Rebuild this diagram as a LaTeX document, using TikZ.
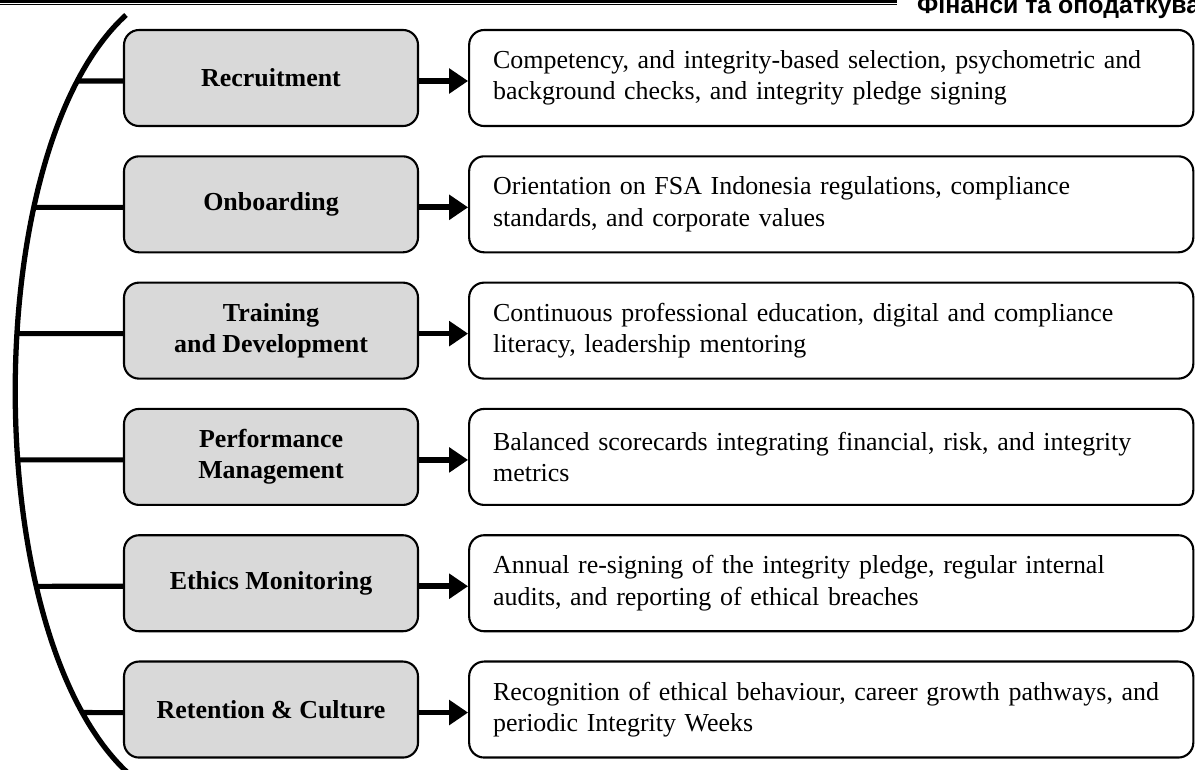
\documentclass[tikz,border=0pt]{standalone}
\usepackage{fontspec}
\setmainfont{Liberation Serif}
\newfontfamily\headfont{Liberation Sans}
\usepackage{tikz}
\usetikzlibrary{arrows.meta,positioning,intersections}

\definecolor{stagegrey}{RGB}{217,217,217}

\begin{document}
\begin{tikzpicture}[
  node distance=0.47cm and 0.817cm,
  stage/.style={rectangle, rounded corners=0.25cm, draw, line width=1pt, fill=stagegrey, minimum width=4.9cm, minimum height=1.6cm, align=center, font=\fontsize{12.3pt}{14.8pt}\selectfont\bfseries},
  desc/.style={rectangle, rounded corners=0.25cm, draw, line width=1pt, text width=11.27cm, inner xsep=0.4cm, minimum height=1.6cm, align=left, font=\fontsize{12.3pt}{14.8pt}\selectfont},
  arrow/.style={-{Triangle[length=9pt, width=11.5pt]}, line width=2.7pt},
  spoke/.style={line width=2.4pt},
  rim/.style={line width=2.5pt}
]
  \useasboundingbox (0,0) rectangle (19.917,-12.817);
  \clip (0,0) rectangle (19.917,-12.817);

  % Running head
  \draw[line width=1.1pt] (0,-0.025) -- (14.95,-0.025);
  \draw[line width=0.5pt] (0,-0.078) -- (14.95,-0.078);
  \node[anchor=base west, inner sep=0pt, font=\headfont\fontsize{11.8pt}{14pt}\selectfont\bfseries] (journal) at (15.28,-0.233) {Фінанси та оподаткування};

  % Stages
  \node[stage] (recruit) at (4.517,-1.3) {Recruitment};
  \node[stage, below=of recruit] (onboard) {Onboarding};
  \node[stage, below=of onboard] (train) {Training\\and Development};
  \node[stage, below=of train] (perform) {Performance\\Management};
  \node[stage, below=of perform] (ethics) {Ethics Monitoring};
  \node[stage, below=of ethics] (retain) {Retention \& Culture};

  % Descriptions
  \node[desc, right=of recruit] (recruitd) {Competency, and integrity-based selection, psychometric and\\background checks, and integrity pledge signing};
  \node[desc, right=of onboard] (onboardd) {Orientation on FSA Indonesia regulations, compliance\\standards, and corporate values};
  \node[desc, right=of train] (traind) {Continuous professional education, digital and compliance\\literacy, leadership mentoring};
  \node[desc, right=of perform] (performd) {Balanced scorecards integrating financial, risk, and integrity\\metrics};
  \node[desc, right=of ethics] (ethicsd) {Annual re-signing of the integrity pledge, regular internal\\audits, and reporting of ethical breaches};
  \node[desc, right=of retain] (retaind) {Recognition of ethical behaviour, career growth pathways, and\\periodic Integrity Weeks};

  % Bracket on the left
  \draw[rim, name path=arc] (2.1,-0.25) .. controls (-0.37,-2.5) and (-0.37,-10.6) .. (2.15,-12.9);

  % Spokes and arrows
  \foreach \s in {recruit,onboard,train,perform,ethics,retain}{
    \path[name path=ray] ([yshift=-0.05cm]\s.west) -- ++(-5,0);
    \draw[spoke, name intersections={of=arc and ray}] (intersection-1) -- ([yshift=-0.05cm]\s.west);
    \draw[arrow] ([yshift=-0.05cm]\s.east) -- ([yshift=-0.05cm]\s d.west);
  }
\end{tikzpicture}
\end{document}
